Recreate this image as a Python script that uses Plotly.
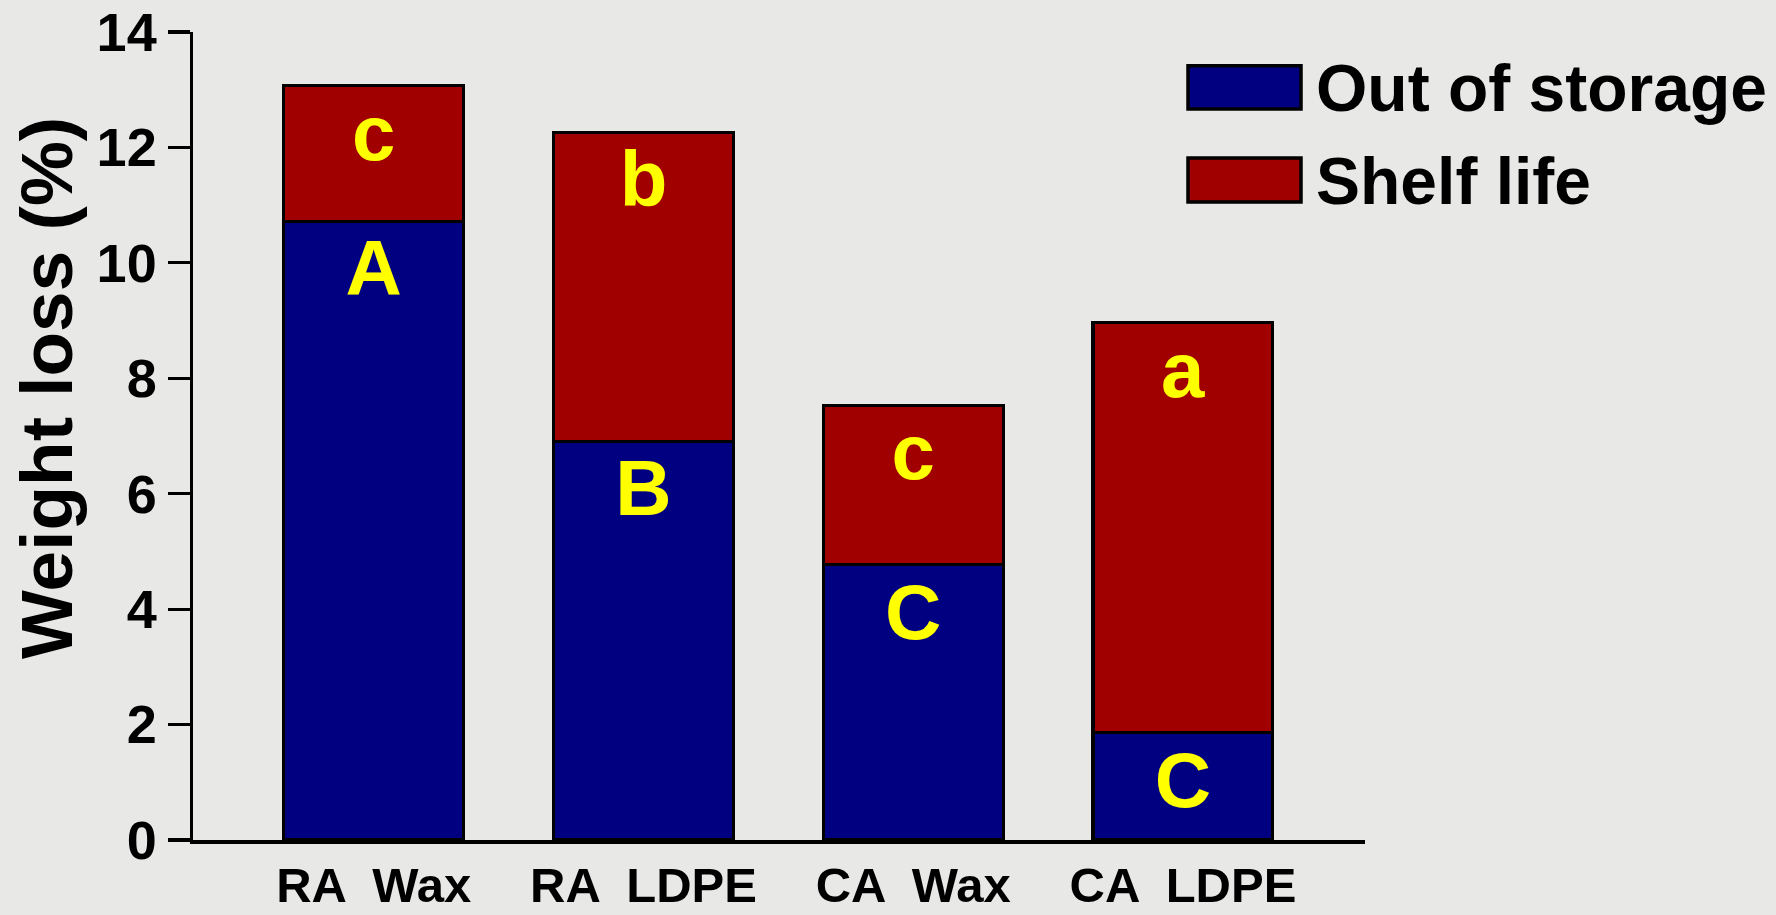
import plotly.graph_objects as go

# ---- data ----
categories = ["RA  Wax", "RA  LDPE", "CA  Wax", "CA  LDPE"]
series_names = ["Out of storage", "Shelf life"]
out_of_storage = [10.72, 6.91, 4.77, 1.86]
shelf_life = [2.35, 5.35, 2.76, 7.10]
out_letters = ["A", "B", "C", "C"]
shelf_letters = ["c", "b", "c", "a"]
y_ticks = [0, 2, 4, 6, 8, 10, 12, 14]
y_title = "Weight loss (%)"

# ---- styling / layout ----
W, H = 1776, 915
ML, MR, MT, MB = 193, 411, 32, 75
PW, PH = W - ML - MR, H - MT - MB
BG = "#e8e8e6"
BLUE = "#000080"
RED = "#a00000"
YELLOW = "#ffff00"
FONT = "Liberation Sans, Arial, sans-serif"


def px_x(p):
    return (p - ML) / PW


def px_y(p):
    return (H - MB - p) / PH


fig = go.Figure()
fig.add_trace(go.Bar(
    x=categories, y=out_of_storage, name=series_names[0],
    marker=dict(color=BLUE, line=dict(color="black", width=3.2)),
    text=out_letters, textposition="inside", insidetextanchor="end",
    textangle=0, constraintext="none",
    textfont=dict(family=FONT, size=78, color=YELLOW, weight="bold"),
    hoverinfo="skip",
))
fig.add_trace(go.Bar(
    x=categories, y=shelf_life, name=series_names[1],
    marker=dict(color=RED, line=dict(color="black", width=3.2)),
    text=shelf_letters, textposition="inside", insidetextanchor="end",
    textangle=0, constraintext="none",
    textfont=dict(family=FONT, size=78, color=YELLOW, weight="bold"),
    hoverinfo="skip",
))

# custom legend (large swatches like the reference)
legend_rows = [(65.7, 109.0, BLUE), (158.0, 202.0, RED)]
annotations = []
shapes = []
for name, (top, bot, col) in zip(series_names, legend_rows):
    shapes.append(dict(
        type="rect", xref="paper", yref="paper",
        x0=px_x(1188), x1=px_x(1301), y0=px_y(bot), y1=px_y(top),
        fillcolor=col, line=dict(color="black", width=3.5), layer="above",
    ))
    annotations.append(dict(
        text=name, xref="paper", yref="paper",
        x=px_x(1314), y=px_y((top + bot) / 2 + 1), xanchor="left", yanchor="middle",
        showarrow=False, font=dict(family=FONT, size=66, color="black", weight="bold"),
    ))

# y-axis title
annotations.append(dict(
    text=y_title, xref="paper", yref="paper",
    x=px_x(47), y=px_y(388), xanchor="center", yanchor="middle",
    textangle=-90, showarrow=False,
    font=dict(family=FONT, size=73, color="black", weight="bold"),
))

fig.update_layout(
    width=W, height=H,
    margin=dict(l=ML, r=MR, t=MT, b=MB, pad=0, autoexpand=False),
    barmode="stack", bargap=0.333,
    paper_bgcolor=BG, plot_bgcolor=BG,
    showlegend=False,
    annotations=annotations, shapes=shapes,
    font=dict(family=FONT, color="black"),
)
fig.update_xaxes(
    type="category", range=[-0.67, 3.675], automargin=False,
    showline=True, linecolor="black", linewidth=3.5,
    showgrid=False, zeroline=False,
    ticks="", ticklen=0,
    tickfont=dict(family=FONT, size=49, color="black", weight="bold"),
)
fig.update_yaxes(
    range=[0, 14], tickvals=y_ticks, automargin=False,
    showline=True, linecolor="black", linewidth=3.5,
    showgrid=False, zeroline=False,
    ticks="outside", ticklen=22, tickwidth=3.2, tickcolor="black",
    tickfont=dict(family=FONT, size=54, color="black", weight="bold"),
)

fig.write_html(
    "out.html",
    config=dict(displayModeBar=False, staticPlot=True),
    post_script="document.body.style.margin='0';document.body.style.overflow='hidden';document.body.style.background='" + BG + "';",
)
